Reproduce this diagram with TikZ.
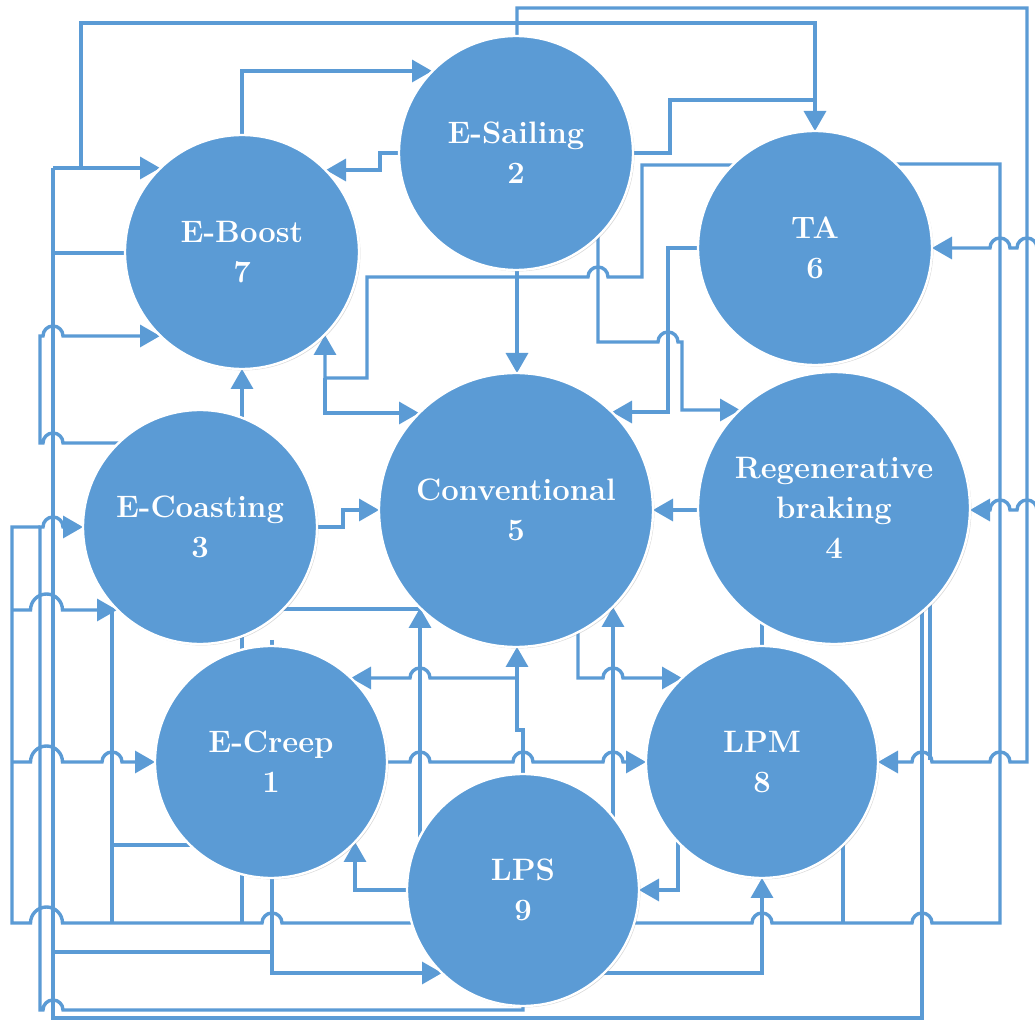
\documentclass[tikz,border=0pt]{standalone}
\usetikzlibrary{arrows.meta,shadows}
\definecolor{cblue}{RGB}{91,155,213}
\newcommand\hopR[2]{-- ({#1-10},#2) arc[start angle=180,end angle=0,radius=5pt]}
\newcommand\hopL[2]{-- ({#1+10},#2) arc[start angle=0,end angle=180,radius=5pt]}
\newcommand\wideR[2]{-- ({#1-16},#2) arc[start angle=180,end angle=0,radius=8pt]}
\newcommand\wideL[2]{-- ({#1+16},#2) arc[start angle=0,end angle=180,radius=8pt]}
\begin{document}
\begin{tikzpicture}[x=0.5pt,y=-0.5pt,
  con/.style={draw=cblue,line width=1.7pt},
  arr/.style={-{Triangle[length=10pt,width=11pt]}},
  st/.style={circle,fill=cblue,draw=white,line width=1.2pt,text=white,align=center,inner sep=0pt,
    font=\fontsize{15.5}{20}\selectfont\bfseries,
    drop shadow={shadow xshift=0.7pt,shadow yshift=-0.7pt,opacity=0.3,fill=gray}}]
\useasboundingbox (0,0) rectangle (1035,1021);
\fill[white] (0,0) rectangle (1035,1021);
\begin{scope}
\clip (0,0) rectangle (1035,1021);
% top-left loop
\draw[con,arr] (53,168) -- (160,168);
\draw[con,arr] (81,168) -- (81,23) -- (815,23) -- (815,131);
\draw[con] (53,168) -- (53,1018) -- (922,1018) -- (922,600);
\draw[con] (53,253) -- (130,253);
\draw[con,arr] (130,443) \hopL{53}{443} -- (40,443) -- (40,336) \hopR{53}{336} -- (160,336);
\draw[con,arr] (242,420) -- (242,369);
% E-Sailing / E-Boost
\draw[con,arr] (405,153) -- (380,153) -- (380,170) -- (326,170);
\draw[con,arr] (242,140) -- (242,71) -- (432,71);
\draw[con] (628,153) -- (670,153) -- (670,100) -- (815,100);
\draw[con,arr] (517,40) -- (517,8) -- (1027,8) -- (1027,762) \hopL{1000}{762} \hopL{922}{762} -- (878,762);
\draw[con,arr] (517,265) -- (517,373);
\draw[con,arr] (740,165) -- (642,165) -- (642,277) \hopL{598}{277} -- (367,277) -- (367,378) -- (325,378) -- (325,335);
\draw[con,arr] (325,378) -- (325,413) -- (419,413);
\draw[con,arr] (598,230) -- (598,342) \hopR{668}{342} -- (682,342) -- (682,410) -- (740,410);
\draw[con,arr] (705,248) -- (668,248) -- (668,412) -- (612,412);
% right side
\draw[con] (890,164) -- (1000,164) -- (1000,923) \hopL{922}{923} \hopL{762}{923} -- (630,923);
\draw[con] (843,840) -- (843,923);
\draw[con,arr] (1035,248) \hopL{1027}{248} \hopL{1000}{248} -- (932,248);
\draw[con,arr] (1035,510) \hopL{1027}{510} \hopL{1000}{510} -- (970,510);
\draw[con,arr] (700,510) -- (653,510);
\draw[con] (930,600) -- (930,760);
\draw[con] (762,620) -- (762,650);
% conventional lower
\draw[con,arr] (310,527) -- (343,527) -- (343,510) -- (379,510);
\draw[con] (280,609) -- (420,609);
\draw[con,arr] (420,840) -- (420,608);
\draw[con,arr] (613,820) -- (613,607);
\draw[con,arr] (523,780) -- (523,730) -- (517,730) -- (517,647);
\draw[con,arr] (517,678) \hopL{420}{678} -- (351,678);
\draw[con,arr] (578,625) -- (578,678) \hopR{613}{678} -- (682,678);
\draw[con,arr] (385,762) \hopR{420}{762} \hopR{523}{762} \hopR{613}{762} -- (646,762);
\draw[con,arr] (410,890) -- (355,890) -- (355,842);
\draw[con,arr] (678,840) -- (678,890) -- (639,890);
\draw[con,arr] (600,973) -- (762,973) -- (762,878);
% left side
\draw[con,arr] (523,995) -- (523,1010) \hopL{53}{1010} -- (40,1010) -- (40,527) \hopR{53}{527} -- (83,527);
\draw[con] (412,923) \hopL{272}{923} \wideL{46.5}{923} -- (12,923) -- (12,527) -- (40,527);
\draw[con,arr] (12,610) \wideR{46.5}{610} -- (117,610);
\draw[con,arr] (12,762) \wideR{46.5}{762} \hopR{112}{762} -- (155,762);
\draw[con] (112,610) -- (112,923);
\draw[con] (112,845) -- (195,845);
\draw[con] (242,630) -- (242,923);
\draw[con,arr] (272,640) -- (272,973) -- (442,973);
\draw[con] (53,952) -- (272,952);
\end{scope}
% states
\node[st,minimum size=117pt] (n2) at (516,153) {E-Sailing\\2};
\node[st,minimum size=117pt] (n6) at (815,248) {TA\\6};
\node[st,minimum size=117pt] (n7) at (242,252) {E-Boost\\7};
\node[st,minimum size=137pt] (n5) at (516,510) {Conventional\\5};
\node[st,minimum size=136pt] (n4) at (834,508) {Regenerative\\braking\\4};
\node[st,minimum size=117pt] (n3) at (200,527) {E-Coasting\\3};
\node[st,minimum size=116pt] (n1) at (271,762) {E-Creep\\1};
\node[st,minimum size=116pt] (n8) at (762,762) {LPM\\8};
\node[st,minimum size=116pt] (n9) at (523,890) {LPS\\9};
\end{tikzpicture}
\end{document}
